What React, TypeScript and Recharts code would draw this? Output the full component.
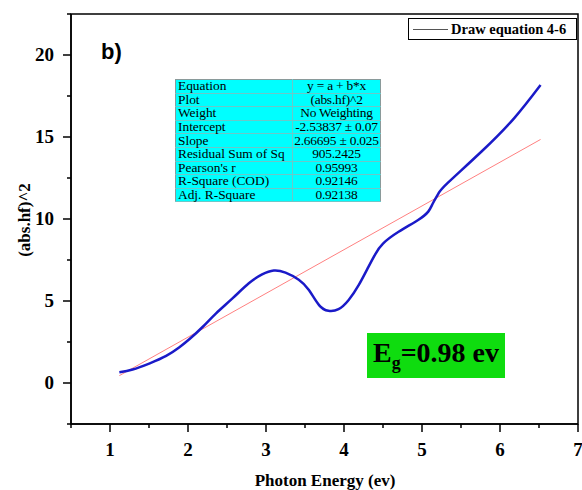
import React from "react"
import { LineChart, Line, XAxis, YAxis, ReferenceArea } from "recharts"

const SERIF = "'Liberation Serif', 'Times New Roman', serif"

// measured curve (abs.hf)^2 vs photon energy
const energy = [1.12, 1.29, 1.51, 1.72, 1.89, 2.02, 2.19, 2.36, 2.57, 2.78, 2.95, 3.1, 3.25, 3.42, 3.55, 3.68, 3.8, 3.93, 4.06, 4.19, 4.31, 4.4, 4.5, 4.7, 4.95, 5.08, 5.14, 5.21, 5.33, 5.76, 6.18, 6.52]
const absSq = [0.66, 0.82, 1.2, 1.65, 2.18, 2.68, 3.43, 4.25, 5.16, 6.08, 6.62, 6.86, 6.73, 6.3, 5.67, 4.75, 4.4, 4.5, 5.06, 5.98, 7.05, 7.85, 8.5, 9.22, 9.94, 10.45, 10.96, 11.55, 12.2, 14.1, 16.14, 18.17]

// fitted line end points
const fitX = [1.12, 6.52]
const fitY = [0.45, 14.85]

const xTicks = [0.5, 1, 1.5, 2, 2.5, 3, 3.5, 4, 4.5, 5, 5.5, 6, 6.5, 7]
const yTicks = [-2.5, 0, 2.5, 5, 7.5, 10, 12.5, 15, 17.5, 20, 22.5]

const statLabels = ["Equation", "Plot", "Weight", "Intercept", "Slope", "Residual Sum of Sq", "Pearson's r", "R-Square (COD)", "Adj. R-Square"]
const statValues = ["y = a + b*x", "(abs.hf)^2", "No Weighting", "-2.53837 \u00b1 0.07", "2.66695 \u00b1 0.025", "905.2425", "0.95993", "0.92146", "0.92138"]

const curveData = energy.map((x, i) => ({ x, y: absSq[i] }))
const fitData = fitX.map((x, i) => ({ x, y: fitY[i] }))

const XTick = (props: any) => {
  const { x, y, payload } = props
  const major = Number.isInteger(payload.value)
  return (
    <g>
      <line x1={x} y1={y} x2={x} y2={y + (major ? 8 : 4)} stroke="#000" strokeWidth={1.5} />
      {major && (
        <text x={x} y={y + 32} textAnchor="middle" fontFamily={SERIF} fontWeight="bold" fontSize={19} fill="#000">
          {payload.value}
        </text>
      )}
    </g>
  )
}

const YTick = (props: any) => {
  const { x, y, payload } = props
  const major = payload.value % 5 === 0
  return (
    <g>
      <line x1={x} y1={y} x2={x - (major ? 8 : 4)} y2={y} stroke="#000" strokeWidth={1.5} />
      {major && (
        <text x={x - 17} y={y + 6} textAnchor="end" fontFamily={SERIF} fontWeight="bold" fontSize={19} fill="#000">
          {payload.value}
        </text>
      )}
    </g>
  )
}

export default function App() {
  return (
    <div style={{ position: "absolute", left: 0, top: 0, width: 582, height: 490, background: "#fff" }}>
      <LineChart width={582} height={490} margin={{ top: 14, right: 4, bottom: 0, left: 0 }}>
        <XAxis
          type="number"
          dataKey="x"
          domain={[0.5, 7]}
          ticks={xTicks}
          interval={0}
          allowDataOverflow
          height={66}
          tickSize={0}
          tickMargin={0}
          tickLine={false}
          axisLine={{ stroke: "#000", strokeWidth: 1.5 }}
          tick={<XTick />}
        />
        <YAxis
          type="number"
          dataKey="y"
          domain={[-2.5, 22.5]}
          ticks={yTicks}
          interval={0}
          allowDataOverflow
          width={71}
          tickSize={0}
          tickMargin={0}
          tickLine={false}
          axisLine={{ stroke: "#000", strokeWidth: 1.5 }}
          tick={<YTick />}
        />
        <ReferenceArea x1={0.5} x2={7} y1={-2.5} y2={22.5} stroke="#000" strokeWidth={1.5} fill="none" fillOpacity={0} />
        <Line data={fitData} dataKey="y" type="linear" stroke="#ff8080" strokeWidth={1} dot={false} isAnimationActive={false} />
        <Line data={curveData} dataKey="y" type="natural" stroke="#1a1ac8" strokeWidth={2.5} dot={false} isAnimationActive={false} />
      </LineChart>

      <div style={{ position: "absolute", left: 101, top: 39, fontFamily: "'Liberation Sans', Arial, sans-serif", fontWeight: "bold", fontSize: 22 }}>
        b)
      </div>

      <div style={{ position: "absolute", left: 408, top: 18, width: 167, height: 20, border: "1.5px solid #000", background: "#fff", display: "flex", alignItems: "center" }}>
        <div style={{ width: 35, height: 0, borderTop: "1px solid #555", marginLeft: 4 }} />
        <span style={{ fontFamily: SERIF, fontWeight: "bold", fontSize: 14.5, marginLeft: 3, whiteSpace: "nowrap" }}>Draw equation 4-6</span>
      </div>

      <table
        style={{
          position: "absolute",
          left: 175,
          top: 79,
          width: 206,
          height: 123,
          borderCollapse: "collapse",
          background: "#00ffff",
          border: "1px solid #8a9a9a",
          fontFamily: SERIF,
          fontSize: 13.4,
          lineHeight: "12px",
        }}
      >
        <tbody>
          {statLabels.map((lab, i) => (
            <tr key={lab} style={{ height: 13.6 }}>
              <td style={{ padding: "0 2px", borderBottom: "1px solid #6cc8c8", borderRight: "1px solid #6cc8c8", width: 112, whiteSpace: "nowrap" }}>{lab}</td>
              <td style={{ padding: 0, borderBottom: "1px solid #6cc8c8", textAlign: "center", whiteSpace: "nowrap", letterSpacing: -0.2 }}>{statValues[i]}</td>
            </tr>
          ))}
        </tbody>
      </table>

      <div
        style={{
          position: "absolute",
          left: 367,
          top: 333,
          width: 138,
          height: 45,
          background: "#0fdc0f",
          fontFamily: SERIF,
          fontWeight: "bold",
          fontSize: 28,
          display: "flex",
          alignItems: "center",
          justifyContent: "center",
        }}
      >
        <span style={{ whiteSpace: "nowrap" }}>
          E<sub style={{ fontSize: 18 }}>g</sub>=0.98 ev
        </span>
      </div>

      <div style={{ position: "absolute", left: 0, width: 650, top: 471, textAlign: "center", fontFamily: SERIF, fontWeight: "bold", fontSize: 17 }}>
        Photon Energy (ev)
      </div>
      <div
        style={{
          position: "absolute",
          left: 25,
          top: 220,
          transform: "translate(-50%, -50%) rotate(-90deg)",
          whiteSpace: "nowrap",
          fontFamily: SERIF,
          fontWeight: "bold",
          fontSize: 17,
        }}
      >
        (abs.hf)^2
      </div>
    </div>
  )
}
